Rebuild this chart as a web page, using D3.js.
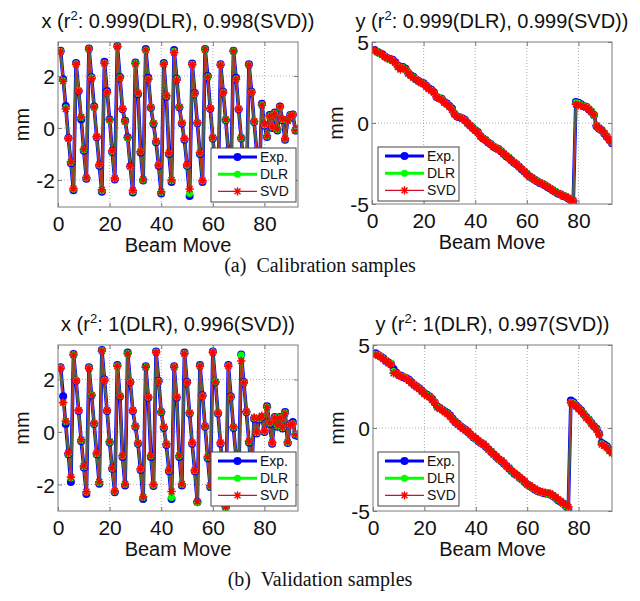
<!doctype html>
<html lang="en">
<head>
<meta charset="UTF-8" />
<title>Beam move reconstruction</title>
<script src="https://d3js.org/d3.v7.min.js"></script>
<style>
	body { margin: 0; background: #fff; }
	svg { display: block; font-family: 'Liberation Sans', Arial, sans-serif; }
	.grid line { stroke: #9a9a9a; stroke-width: 0.8; stroke-dasharray: 1, 2; }
	.frame { fill: none; stroke: #7a7a7a; stroke-width: 1; }
	.axis line { stroke: #7a7a7a; }
	.axis text { font-size: 21px; fill: #111; font-family: 'Liberation Sans', Arial, sans-serif; }
	.title { font-size: 20px; fill: #111; }
	.label { font-size: 20px; fill: #111; }
	.legend text { font-size: 14px; fill: #111; }
	.caption { font-family: 'Liberation Serif', 'Times New Roman', serif; font-size: 20px; fill: #111; white-space: pre; }
</style>
</head>
<body>
<svg width="640" height="601"></svg>
<script>
// x beam position, calibration samples (index 1..93)
const calXExp = [2.97, 1.88, 0.85, -0.38, -1.36, -2.40,
	2.50, 1.42, 0.33, -0.88, -1.95,
	3.06, 1.95, 0.83, -0.36, -1.45, -2.45,
	2.55, 1.41, 0.33, -0.92, -1.98,
	3.16, 1.96, 0.72, 0.28, -0.36, -1.48, -2.48,
	2.52, 1.30, -0.94, -2.02,
	3.04, 1.93, 0.78, 0.15, -0.55, -1.45, -2.52,
	2.50, 1.20, -1.00, -2.08,
	3.00, 1.90, 0.80, 0.17, -0.45, -1.45, -2.62,
	2.48, 1.35, 0.18, -1.00, -2.08,
	3.04, 2.00, 0.74, -0.40, -1.50, -2.40,
	2.45, 1.40, 0.30, -0.90, -1.95,
	2.97, 1.93, 0.72, -0.40, -1.45, -2.40,
	2.45, 1.40, 0.23, -0.90, -1.95,
	0.93, 0.10, -0.35, 0.50, 0.00, 0.60, -0.10, 0.83, 0.30, -0.45, 0.30, 0.50, 0.52, -0.10, -0.05]
const calXDlr = [2.95, 1.83, 0.78, -0.40, -1.33, -2.36,
	2.47, 1.45, 0.40, -0.85, -1.92,
	3.04, 1.93, 0.80, -0.34, -1.42, -2.41,
	2.50, 1.38, 0.30, -0.90, -1.95,
	3.14, 1.94, 0.74, 0.25, -0.38, -1.50, -2.44,
	2.50, 1.33, -0.90, -2.00,
	3.00, 1.90, 0.80, 0.18, -0.52, -1.42, -2.48,
	2.47, 1.23, -0.97, -2.03,
	2.95, 1.88, 0.82, 0.20, -0.42, -1.43, -2.52,
	2.45, 1.32, 0.20, -0.97, -2.04,
	3.02, 1.97, 0.76, -0.38, -1.47, -2.38,
	2.43, 1.38, 0.32, -0.88, -1.93,
	2.96, 1.90, 0.74, -0.38, -1.43, -2.37,
	2.43, 1.38, 0.25, -0.88, -1.92,
	0.90, 0.12, -0.32, 0.47, 0.03, 0.57, -0.07, 0.80, 0.32, -0.42, 0.28, 0.48, 0.50, -0.08, -0.03]
const calXSvd = [2.93, 1.80, 0.73, -0.40, -1.30, -2.33,
	2.45, 1.42, 0.42, -0.82, -1.90,
	3.03, 1.90, 0.80, -0.33, -1.40, -2.38,
	2.48, 1.38, 0.32, -0.88, -1.93,
	3.13, 1.92, 0.74, 0.25, -0.37, -1.47, -2.40,
	2.47, 1.35, -0.90, -1.98,
	3.00, 1.88, 0.80, 0.18, -0.50, -1.42, -2.45,
	2.45, 1.25, -0.95, -2.00,
	2.90, 1.85, 0.80, 0.20, -0.40, -1.40, -2.35,
	2.43, 1.33, 0.20, -0.95, -2.02,
	3.02, 1.95, 0.76, -0.37, -1.45, -2.35,
	2.42, 1.36, 0.33, -0.86, -1.90,
	2.95, 1.88, 0.73, -0.37, -1.42, -2.35,
	2.42, 1.37, 0.26, -0.86, -1.90,
	0.88, 0.15, -0.30, 0.45, 0.05, 0.55, -0.05, 0.82, 0.35, -0.40, 0.27, 0.47, 0.50, -0.08, -0.02]

// y beam position, calibration samples
const calYExp = [4.50, 4.40, 4.30, 4.25, 4.10, 4.00, 3.95, 3.90, 3.75, 3.55,
	3.40, 3.45, 3.35, 3.10, 2.95, 2.85, 2.70, 2.60, 2.50, 2.45,
	2.30, 2.15, 2.05, 1.90, 1.60, 1.55, 1.50, 1.30, 1.20, 1.05,
	0.90, 0.55, 0.40, 0.35, 0.30, 0.20, 0.00, -0.15, -0.30, -0.45,
	-0.55, -0.80, -0.95, -1.05, -1.20, -1.30, -1.45, -1.55, -1.60, -1.75,
	-1.90, -2.05, -2.15, -2.30, -2.45, -2.55, -2.70, -2.85, -3.00, -3.15,
	-3.30, -3.40, -3.50, -3.60, -3.70, -3.75, -3.85, -3.95, -4.05, -4.15,
	-4.25, -4.35, -4.40, -4.50, -4.55, -4.65, -4.75, -4.85,
	1.30, 1.25, 1.15, 1.05, 1.00, 0.85, 0.70, 0.50, -0.20, -0.35, -0.45, -0.65, -0.85, -1.05, -1.25]
const calYDlr = [4.45, 4.42, 4.28, 4.20, 4.12, 3.98, 3.90, 3.88, 3.70, 3.50,
	3.38, 3.42, 3.30, 3.08, 2.92, 2.82, 2.72, 2.58, 2.48, 2.42,
	2.28, 2.12, 2.02, 1.85, 1.62, 1.58, 1.48, 1.28, 1.18, 1.02,
	0.85, 0.58, 0.42, 0.38, 0.28, 0.18, 0.02, -0.12, -0.28, -0.42,
	-0.58, -0.78, -0.92, -1.02, -1.18, -1.28, -1.42, -1.52, -1.62, -1.72,
	-1.88, -2.02, -2.12, -2.28, -2.42, -2.52, -2.68, -2.82, -2.98, -3.12,
	-3.28, -3.38, -3.48, -3.58, -3.68, -3.72, -3.82, -3.92, -4.02, -4.12,
	-4.22, -4.32, -4.38, -4.48, -4.52, -4.62, -4.72, -4.80,
	1.25, 1.22, 1.12, 1.08, 0.98, 0.88, 0.72, 0.48, -0.15, -0.32, -0.48, -0.62, -0.82, -1.02, -1.22]
const calYSvd = [4.48, 4.38, 4.32, 4.22, 4.08, 4.02, 3.92, 3.85, 3.72, 3.45,
	3.30, 3.40, 3.32, 3.05, 2.93, 2.80, 2.68, 2.57, 2.47, 2.40,
	2.25, 2.10, 2.00, 1.88, 1.62, 1.52, 1.45, 1.25, 1.15, 1.00,
	0.80, 0.55, 0.38, 0.33, 0.25, 0.15, -0.02, -0.15, -0.32, -0.45,
	-0.60, -0.82, -0.95, -1.05, -1.22, -1.32, -1.45, -1.55, -1.65, -1.75,
	-1.90, -2.02, -2.15, -2.30, -2.43, -2.55, -2.70, -2.85, -3.00, -3.13,
	-3.28, -3.38, -3.50, -3.60, -3.70, -3.75, -3.85, -3.95, -4.05, -4.13,
	-4.25, -4.33, -4.40, -4.48, -4.53, -4.63, -4.72, -4.78,
	1.15, 1.10, 1.08, 1.02, 0.95, 0.85, 0.70, 0.48, -0.15, -0.30, -0.45, -0.63, -0.85, -1.05, -1.25]

// x beam position, validation samples
const valXExp = [2.46, 1.36, 0.30, -0.85, -1.91,
	2.97, 1.95, 0.80, -0.35, -1.35, -2.36,
	2.46, 1.40, 0.30, -0.85, -1.97,
	3.12, 2.00, 0.80, -0.40, -1.40, -2.30,
	2.55, 1.35, -0.95, -2.04,
	3.02, 1.90, 0.80, 0.20, -0.45, -1.45, -2.55,
	2.50, 1.30, -0.95, -2.06,
	3.06, 1.95, 0.75, 0.15, -0.50, -1.50, -2.55,
	2.50, 1.30, -0.95, -2.04,
	3.02, 1.90, 0.70, -0.45, -1.50, -2.68,
	2.55, 1.40, 0.20, -1.00, -2.10,
	3.06, 1.90, 0.70, -0.45, -1.60, -2.87,
	2.55, 1.35, 0.15, -0.95, -2.05,
	2.95, 1.90, 0.75, -0.40, -1.50,
	0.50, -0.06, 0.47, 0.57, 0.00, 0.98, 0.30, -0.45, 0.57, 0.20, 0.57, 0.13, 0.76, -0.42, 0.30, 0.38, -0.13, -0.15]
const valXDlr = [2.44, 1.10, 0.40, -0.83, -1.75,
	2.95, 1.97, 0.82, -0.33, -1.33, -2.30,
	2.44, 1.42, 0.32, -0.83, -1.93,
	3.10, 1.98, 0.82, -0.38, -1.38, -2.27,
	2.52, 1.38, -0.92, -2.00,
	3.00, 1.92, 0.82, 0.22, -0.43, -1.42, -2.50,
	2.48, 1.32, -0.92, -2.03,
	3.04, 1.93, 0.77, 0.18, -0.47, -1.47, -2.50,
	2.48, 1.33, -0.92, -2.00,
	3.00, 1.88, 0.72, -0.42, -1.48, -2.70,
	2.52, 1.38, 0.22, -0.97, -2.06,
	3.04, 1.92, 0.72, -0.42, -1.58, -2.90,
	2.52, 1.33, 0.18, -0.92, -2.02,
	2.93, 1.88, 0.77, -0.37, -1.47,
	0.53, -0.03, 0.50, 0.60, 0.03, 0.95, 0.33, -0.42, 0.55, 0.23, 0.55, 0.16, 0.73, -0.40, 0.28, 0.32, -0.10, -0.12]
const valXSvd = [2.42, 1.12, 0.42, -0.80, -1.72,
	2.93, 1.95, 0.83, -0.30, -1.30, -2.28,
	2.42, 1.40, 0.33, -0.80, -1.90,
	3.08, 1.96, 0.83, -0.36, -1.36, -2.25,
	2.50, 1.37, -0.90, -1.98,
	2.98, 1.90, 0.83, 0.23, -0.42, -1.40, -2.48,
	2.46, 1.33, -0.90, -2.00,
	3.02, 1.92, 0.78, 0.20, -0.45, -1.45, -2.27,
	2.46, 1.33, -0.90, -1.98,
	2.98, 1.87, 0.73, -0.40, -1.46, -2.65,
	2.50, 1.37, 0.23, -0.95, -2.04,
	3.02, 1.90, 0.73, -0.40, -1.55, -2.85,
	2.50, 1.32, 0.20, -0.90, -2.00,
	2.70, 1.87, 0.78, -0.35, -1.45,
	0.55, 0.00, 0.52, 0.62, 0.05, 0.93, 0.35, -0.40, 0.53, 0.25, 0.53, 0.18, 0.70, -0.38, 0.27, 0.30, -0.08, -0.10]

// y beam position, validation samples
const valYExp = [4.50, 4.40, 4.30, 4.20, 4.05, 3.95, 3.85, 3.55, 3.35, 3.20,
	3.15, 3.05, 3.00, 2.90, 2.75, 2.60, 2.50, 2.40, 2.25, 2.10,
	2.00, 1.90, 1.75, 1.55, 1.30, 1.20, 1.10, 1.00, 0.90, 0.75,
	0.55, 0.35, 0.25, 0.10, 0.00, -0.10, -0.25, -0.40, -0.55, -0.65,
	-0.80, -0.90, -1.00, -1.15, -1.30, -1.45, -1.60, -1.75, -1.90, -2.00,
	-2.15, -2.30, -2.45, -2.60, -2.75, -2.85, -3.00, -3.10, -3.25, -3.40,
	-3.50, -3.60, -3.70, -3.80, -3.85, -3.90, -3.95, -3.95, -4.00, -4.10,
	-4.20, -4.35, -4.45, -4.55, -4.70, -4.85,
	1.65, 1.55, 1.35, 1.20, 1.05, 0.85, 0.65, 0.50, 0.30, 0.10, -0.05, -0.35, -0.90, -1.00, -1.10, -1.30, -1.45]
const valYDlr = [4.45, 4.38, 4.32, 4.18, 4.08, 3.92, 3.88, 3.40, 3.30, 3.22,
	3.12, 3.08, 2.98, 2.88, 2.72, 2.62, 2.48, 2.38, 2.22, 2.08,
	1.98, 1.88, 1.72, 1.58, 1.28, 1.18, 1.12, 0.98, 0.88, 0.72,
	0.52, 0.38, 0.22, 0.12, -0.02, -0.12, -0.22, -0.42, -0.52, -0.68,
	-0.78, -0.92, -0.98, -1.12, -1.32, -1.42, -1.62, -1.72, -1.92, -1.98,
	-2.12, -2.32, -2.42, -2.62, -2.72, -2.88, -2.98, -3.12, -3.22, -3.42,
	-3.48, -3.62, -3.68, -3.78, -3.88, -3.88, -3.92, -3.98, -3.98, -4.08,
	-4.18, -4.32, -4.42, -4.58, -4.68, -4.80,
	1.55, 1.50, 1.32, 1.18, 1.02, 0.88, 0.62, 0.52, 0.28, 0.12, -0.08, -0.38, -0.95, -1.05, -1.15, -1.35, -1.50]
const valYSvd = [4.42, 4.35, 4.28, 4.15, 4.02, 3.90, 3.82, 3.30, 3.32, 3.18,
	3.10, 3.02, 2.95, 2.85, 2.70, 2.58, 2.45, 2.35, 2.20, 2.05,
	1.95, 1.85, 1.70, 1.52, 1.25, 1.15, 1.08, 0.95, 0.85, 0.70,
	0.50, 0.40, 0.20, 0.10, -0.05, -0.15, -0.20, -0.40, -0.50, -0.65,
	-0.75, -0.90, -0.95, -1.10, -1.30, -1.40, -1.60, -1.70, -1.88, -1.95,
	-2.10, -2.30, -2.40, -2.60, -2.70, -2.85, -2.95, -3.10, -3.20, -3.40,
	-3.45, -3.60, -3.65, -3.75, -3.85, -3.85, -3.90, -3.95, -3.95, -4.05,
	-4.15, -4.30, -4.40, -4.55, -4.65, -4.75,
	1.50, 1.45, 1.30, 1.15, 1.00, 0.85, 0.60, 0.50, 0.25, 0.10, -0.10, -0.40, -1.00, -1.08, -1.18, -1.38, -1.52]

const xTicks = [0, 20, 40, 60, 80]
const xPosTicks = [-2, 0, 2]
const yPosTicks = [-5, 0, 5]
const seriesNames = ['Exp.', 'DLR', 'SVD']
const captions = ['(a)  Calibration samples', '(b)  Validation samples']

const svg = d3.select('svg')
svg.append('rect').attr('width', 640).attr('height', 601).attr('fill', '#fff')

const styles = [
	{ color: '#0000ff', width: 3.6, marker: 'circle', r: 4 },
	{ color: '#00ff00', width: 2, marker: 'circle', r: 3.5 },
	{ color: '#d0102a', width: 1.8, marker: 'star', r: 4.2 }
]

function starPath(r) {
	const k = r * 0.707
	return `M${-r},0L${r},0M0,${-r}L0,${r}M${-k},${-k}L${k},${k}M${-k},${k}L${k},${-k}`
}

let clipId = 0
function drawPanel(p) {
	const g = svg.append('g').attr('transform', `translate(${p.left},${p.top})`)
	const x = d3.scaleLinear().domain([0, 93]).range([0, p.w])
	const y = d3.scaleLinear().domain(p.yDomain).range([p.h, 0])

	const grid = g.append('g').attr('class', 'grid')
	grid.selectAll('line.gx')
		.data(xTicks.filter((t) => t > 0))
		.join('line')
		.attr('x1', (d) => x(d)).attr('x2', (d) => x(d))
		.attr('y1', 0).attr('y2', p.h)
	grid.selectAll('line.gy')
		.data(p.yTicks.filter((t) => t > p.yDomain[0] && t < p.yDomain[1]))
		.join('line')
		.attr('x1', 0).attr('x2', p.w)
		.attr('y1', (d) => y(d)).attr('y2', (d) => y(d))

	const id = 'clip' + clipId++
	g.append('clipPath').attr('id', id)
		.append('rect').attr('width', p.w).attr('height', p.h)
	const plot = g.append('g').attr('clip-path', `url(#${id})`)

	const line = d3.line().x((d, i) => x(i + 1)).y((d) => y(d))
	p.series.forEach((vals, k) => {
		const s = styles[k]
		plot.append('path').datum(vals)
			.attr('d', line)
			.attr('fill', 'none')
			.attr('stroke', s.color)
			.attr('stroke-width', s.width)
			.attr('stroke-opacity', k === 2 ? 0.85 : 1)
			.attr('stroke-linejoin', 'round')
	})
	p.series.forEach((vals, k) => {
		const s = styles[k]
		if (s.marker === 'circle') {
			plot.append('g').selectAll('circle')
				.data(vals)
				.join('circle')
				.attr('cx', (d, i) => x(i + 1))
				.attr('cy', (d) => y(d))
				.attr('r', s.r)
				.attr('fill', s.color)
		} else {
			plot.append('g').selectAll('path')
				.data(vals)
				.join('path')
				.attr('transform', (d, i) => `translate(${x(i + 1)},${y(d)})`)
				.attr('d', starPath(s.r))
				.attr('stroke', '#ff0000')
				.attr('stroke-width', 1.5)
				.attr('fill', 'none')
		}
	})

	// axes, ticks pointing inward
	const bottom = g.append('g').attr('class', 'axis')
		.attr('transform', `translate(0,${p.h})`)
		.call(d3.axisBottom(x).tickValues(xTicks).tickSize(-4))
	bottom.select('.domain').remove()
	bottom.selectAll('text').attr('y', 24).attr('dy', 0)

	const top = g.append('g').attr('class', 'axis')
		.call(d3.axisTop(x).tickValues(xTicks).tickSize(-4).tickFormat(''))
	top.select('.domain').remove()

	const left = g.append('g').attr('class', 'axis')
		.call(d3.axisLeft(y).tickValues(p.yTicks).tickSize(-4).tickFormat((d) => d3.format('d')(d).replace('−', '-')))
	left.select('.domain').remove()
	left.selectAll('text').attr('x', -3).attr('dy', '0.36em')

	const right = g.append('g').attr('class', 'axis')
		.attr('transform', `translate(${p.w},0)`)
		.call(d3.axisRight(y).tickValues(p.yTicks).tickSize(-4).tickFormat(''))
	right.select('.domain').remove()

	g.append('rect').attr('class', 'frame').attr('width', p.w).attr('height', p.h)

	// title with superscript
	const t = g.append('text').attr('class', 'title')
		.attr('x', p.w / 2).attr('y', -14).attr('text-anchor', 'middle')
	t.append('tspan').text(p.title[0] + ' (r')
	t.append('tspan').text('2').attr('font-size', 13).attr('dy', -8)
	t.append('tspan').text(': ' + p.title[1] + '(DLR), ' + p.title[2] + '(SVD))').attr('dy', 8)

	g.append('text').attr('class', 'label')
		.attr('x', p.w / 2).attr('y', p.h + 45)
		.attr('text-anchor', 'middle')
		.text('Beam Move')
	g.append('text').attr('class', 'label')
		.attr('transform', `translate(-29,${p.h / 2}) rotate(-90)`)
		.attr('text-anchor', 'middle')
		.text('mm')

	// legend
	const lg = g.append('g').attr('class', 'legend')
		.attr('transform', `translate(${p.legend[0]},${p.legend[1]})`)
	lg.append('rect').attr('width', p.legend[2]).attr('height', 54)
		.attr('fill', '#fff').attr('stroke', '#444').attr('stroke-width', 1)
	seriesNames.forEach((name, k) => {
		const s = styles[k]
		const ry = 9 + k * 17.2
		lg.append('line').attr('x1', 7).attr('x2', 46).attr('y1', ry).attr('y2', ry)
			.attr('stroke', s.color).attr('stroke-width', k === 2 ? 1.3 : 3)
		if (s.marker === 'circle') {
			lg.append('circle').attr('cx', 26.5).attr('cy', ry).attr('r', s.r).attr('fill', s.color)
		} else {
			lg.append('path').attr('transform', `translate(26.5,${ry})`)
				.attr('d', starPath(s.r)).attr('stroke', '#ff0000').attr('stroke-width', 1.4)
		}
		lg.append('text').attr('x', 49).attr('y', ry).attr('dy', '0.36em').text(name)
	})
}

drawPanel({ left: 58, top: 42, w: 240, h: 165, yDomain: [-3.04, 3.31], yTicks: xPosTicks,
	title: ['x', '0.999', '0.998'], series: [calXExp, calXDlr, calXSvd], legend: [153, 106, 85] })
drawPanel({ left: 372, top: 42, w: 240, h: 162, yDomain: [-5, 5], yTicks: yPosTicks,
	title: ['y', '0.999', '0.999'], series: [calYExp, calYDlr, calYSvd], legend: [6, 105, 81] })
drawPanel({ left: 58, top: 345, w: 240, h: 166, yDomain: [-3.01, 3.31], yTicks: xPosTicks,
	title: ['x', '1', '0.996'], series: [valXExp, valXDlr, valXSvd], legend: [153, 107, 85] })
drawPanel({ left: 373, top: 345, w: 239, h: 166, yDomain: [-5, 5], yTicks: yPosTicks,
	title: ['y', '1', '0.997'], series: [valYExp, valYDlr, valYSvd], legend: [5, 107, 81] })

svg.append('text').attr('class', 'caption').attr('x', 320).attr('y', 272)
	.attr('text-anchor', 'middle').text(captions[0])
svg.append('text').attr('class', 'caption').attr('x', 320).attr('y', 586)
	.attr('text-anchor', 'middle').text(captions[1])
</script>
</body>
</html>
